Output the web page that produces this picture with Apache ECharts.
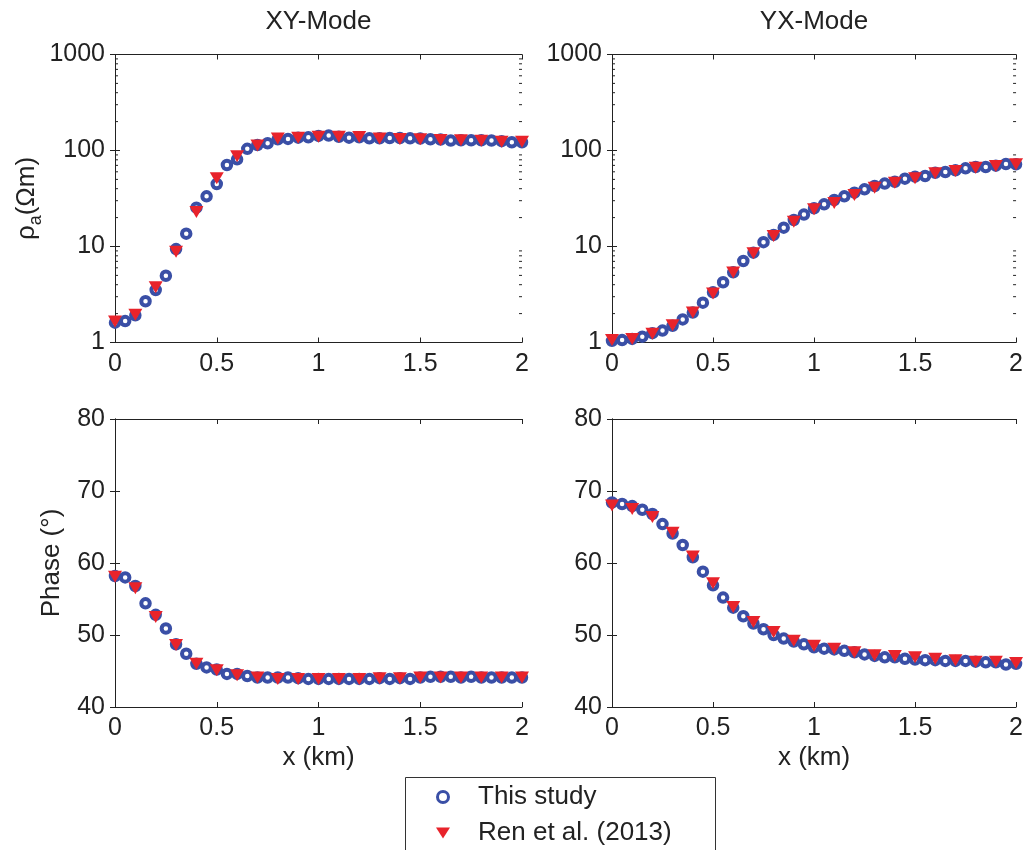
<!DOCTYPE html>
<html>
<head>
<meta charset="utf-8">
<script src="https://cdn.jsdelivr.net/npm/echarts@6/dist/echarts.min.js"></script>
<style>
html, body { margin: 0; padding: 0; background: #fff; }
#main { width: 1026px; height: 850px; }
</style>
</head>
<body>
<div id="main"></div>
<script>
// x positions (km)
var xFine = [0, 0.05, 0.1, 0.15, 0.2, 0.25, 0.3, 0.35, 0.4, 0.45, 0.5, 0.55, 0.6, 0.65, 0.7, 0.75, 0.8, 0.85, 0.9, 0.95,
    1, 1.05, 1.1, 1.15, 1.2, 1.25, 1.3, 1.35, 1.4, 1.45, 1.5, 1.55, 1.6, 1.65, 1.7, 1.75, 1.8, 1.85, 1.9, 1.95, 2];
var xCoarse = [0, 0.1, 0.2, 0.3, 0.4, 0.5, 0.6, 0.7, 0.8, 0.9, 1, 1.1, 1.2, 1.3, 1.4, 1.5, 1.6, 1.7, 1.8, 1.9, 2];

// apparent resistivity, XY mode
var xyRhoStudy = [1.61, 1.67, 1.92, 2.69, 3.52, 4.96, 9.4, 13.6, 25.4, 33.3, 44.8, 70.6, 80.9, 104, 114, 119, 131, 132, 136, 137,
    142, 143, 139, 136, 137, 134, 134, 135, 135, 134, 133, 131, 130, 127, 128, 128, 128, 127, 125, 122, 122];
var xyRhoRen = [1.65, 1.95, 3.76, 8.8, 22.9, 51.3, 87, 113, 133, 136, 139, 139, 138, 133, 132, 131, 129, 128, 126, 123, 123];

// apparent resistivity, YX mode
var yxRhoStudy = [1.04, 1.06, 1.09, 1.15, 1.25, 1.33, 1.49, 1.74, 2.05, 2.60, 3.33, 4.24, 5.38, 7.07, 8.63, 11.1, 13.2, 15.7, 18.9, 21.5,
    25.0, 27.5, 30.5, 33.3, 36.4, 39.4, 42.7, 45.2, 47.3, 50.9, 53.4, 54.2, 58.7, 59.7, 62.1, 65.2, 67.3, 67.3, 69.5, 72.3, 71.8];
var yxRhoRen = [1.06, 1.09, 1.23, 1.51, 2.05, 3.23, 5.35, 8.49, 12.9, 18.1, 24.4, 28.4, 34.4, 41.0, 46.2, 51.3, 57.8, 61.2, 66.2, 69, 72];

// phase, XY mode
var xyPhaseStudy = [58.2, 58.0, 56.8, 54.4, 52.8, 50.9, 48.7, 47.4, 46.0, 45.5, 45.2, 44.6, 44.6, 44.3, 44.1, 44.1, 44.1, 44.1, 44.0, 43.9,
    43.9, 43.9, 43.9, 43.9, 43.9, 43.9, 44.0, 43.9, 44.0, 43.9, 44.1, 44.2, 44.2, 44.2, 44.1, 44.2, 44.1, 44.1, 44.1, 44.1, 44.1];
var xyPhaseRen = [58.1, 56.5, 52.5, 48.6, 46.0, 45.1, 44.4, 44.1, 43.9, 43.9, 43.9, 43.9, 43.9, 44.0, 44.0, 44.1, 44.1, 44.1, 44.1, 44.1, 44.1];

// phase, YX mode
var yxPhaseStudy = [68.4, 68.2, 67.9, 67.4, 66.8, 65.4, 64.1, 62.5, 60.8, 58.8, 56.9, 55.2, 53.8, 52.6, 51.6, 50.8, 50.0, 49.5, 49.1, 48.7,
    48.3, 48.1, 48.0, 47.8, 47.6, 47.3, 47.1, 46.9, 46.9, 46.7, 46.6, 46.5, 46.5, 46.4, 46.4, 46.4, 46.3, 46.2, 46.2, 45.9, 46.0];
var yxPhaseRen = [68.0, 67.5, 66.4, 64.2, 60.9, 57.2, 53.9, 51.8, 50.4, 49.2, 48.5, 48.1, 47.6, 47.2, 47.1, 46.9, 46.7, 46.5, 46.3, 46.3, 46.1];

var modeTitles = ['XY-Mode', 'YX-Mode'];
var seriesNames = ['This study', 'Ren et al. (2013)'];

// log minor tick values (2..9 per decade)
var minorVals = [];
[1, 10, 100].forEach(function (d) {
    for (var m = 2; m <= 9; m++) minorVals.push(m * d);
});

var ink = '#222';
var blue = '#3a4fa6';
var red = '#e8232b';
var font = 'Liberation Sans, Arial, Helvetica, sans-serif';

var grids = [
    { left: 115, top: 54.5, width: 407, height: 288 },
    { left: 612, top: 54.5, width: 406, height: 288 },
    { left: 115, top: 419, width: 407, height: 288 },
    { left: 612, top: 419, width: 406, height: 288 }
];

function zip(xs, ys) {
    return xs.map(function (x, i) { return [x, ys[i]]; });
}

var xAxes = [], yAxes = [];
grids.forEach(function (g, gi) {
    var isTop = gi < 2;
    // bottom x axis
    xAxes.push({
        gridIndex: gi, type: 'value', position: 'bottom', min: 0, max: 2, interval: 0.5,
        name: isTop ? '' : 'x (km)', nameLocation: 'middle', nameGap: 38,
        nameTextStyle: { fontFamily: font, fontSize: 26, color: ink },
        axisLine: { show: true, lineStyle: { color: ink, width: 1 } },
        axisTick: { show: true, inside: true, length: 5, lineStyle: { color: ink } },
        axisLabel: { fontFamily: font, fontSize: 25, color: ink, margin: 9 },
        splitLine: { show: false }
    });
    // top x axis (box edge)
    xAxes.push({
        gridIndex: gi, type: 'value', position: 'top', min: 0, max: 2, interval: 0.5,
        name: isTop ? modeTitles[gi] : '', nameLocation: 'middle', nameGap: 20,
        nameTextStyle: { fontFamily: font, fontSize: 26, color: ink },
        axisLine: { show: true, lineStyle: { color: ink, width: 1 } },
        axisTick: { show: true, inside: true, length: 5, lineStyle: { color: ink } },
        axisLabel: { show: false },
        splitLine: { show: false }
    });
    var yBase = isTop
        ? { type: 'log', logBase: 10, min: 1, max: 1000 }
        : { type: 'value', min: 40, max: 80, interval: 10 };
    var yName = '';
    var yGap = 0;
    if (gi === 0) { yName = '{n|ρ}{s|a}{n|(Ωm)}'; yGap = 70; }
    if (gi === 2) { yName = 'Phase (°)'; yGap = 50; }
    yAxes.push(Object.assign({
        gridIndex: gi, position: 'left',
        name: yName, nameLocation: 'middle', nameGap: yGap,
        nameTextStyle: {
            fontFamily: font, fontSize: 26, color: ink,
            rich: {
                n: { fontFamily: font, fontSize: 26, color: ink, lineHeight: 36 },
                s: { fontFamily: font, fontSize: 18, color: ink, verticalAlign: 'bottom' }
            }
        },
        axisLine: { show: true, lineStyle: { color: ink, width: 1 } },
        axisTick: { show: true, inside: true, length: 5, lineStyle: { color: ink } },
        axisLabel: {
            fontFamily: font, fontSize: 25, color: ink, margin: 10,
            formatter: function (v) { return String(v); }
        },
        splitLine: { show: false }
    }, yBase));
    yAxes.push(Object.assign({
        gridIndex: gi, position: 'right',
        axisLine: { show: true, lineStyle: { color: ink, width: 1 } },
        axisTick: { show: true, inside: true, length: 5, lineStyle: { color: ink } },
        axisLabel: { show: false },
        splitLine: { show: false }
    }, yBase));
});

var panels = [
    [xyRhoStudy, xyRhoRen],
    [yxRhoStudy, yxRhoRen],
    [xyPhaseStudy, xyPhaseRen],
    [yxPhaseStudy, yxPhaseRen]
];

var series = [];
panels.forEach(function (p, gi) {
    series.push({
        name: seriesNames[0], type: 'scatter', xAxisIndex: 2 * gi, yAxisIndex: 2 * gi,
        data: zip(xFine, p[0]), symbol: 'circle', symbolSize: 8.5, clip: false,
        itemStyle: { color: '#fff', borderColor: blue, borderWidth: 4, opacity: 1 },
        emphasis: { disabled: true }, z: 2
    });
    series.push({
        name: seriesNames[1], type: 'scatter', xAxisIndex: 2 * gi, yAxisIndex: 2 * gi,
        data: zip(xCoarse, p[1]), symbol: 'triangle', symbolRotate: 180, symbolSize: [14, 12], clip: false,
        itemStyle: { color: red, opacity: 1 },
        emphasis: { disabled: true }, z: 3
    });
    if (gi < 2) {
        series.push({
            type: 'custom', xAxisIndex: 2 * gi, yAxisIndex: 2 * gi, silent: true, clip: false,
            data: minorVals.map(function (v) { return [0, v]; }),
            renderItem: function (params, api) {
                var a = api.coord([0, api.value(1)]);
                var b = api.coord([2, api.value(1)]);
                return {
                    type: 'group', children: [
                        { type: 'line', shape: { x1: a[0], y1: a[1], x2: a[0] + 3, y2: a[1] }, style: { stroke: ink, lineWidth: 1 } },
                        { type: 'line', shape: { x1: b[0] - 3, y1: b[1], x2: b[0], y2: b[1] }, style: { stroke: ink, lineWidth: 1 } }
                    ]
                };
            }
        });
    }
});

var chart = echarts.init(document.getElementById('main'));
chart.setOption({
    animation: false,
    backgroundColor: '#fff',
    grid: grids,
    xAxis: xAxes,
    yAxis: yAxes,
    legend: {
        data: [
            { name: seriesNames[0], icon: 'circle', itemStyle: { color: '#fff', borderColor: blue, borderWidth: 3 } },
            { name: seriesNames[1], icon: 'path://M0,0L14,0L7,11Z', itemStyle: { color: red, borderWidth: 0 } }
        ],
        orient: 'vertical',
        left: 436, top: 784,
        padding: 0,
        itemWidth: 14, itemHeight: 11, itemGap: 10,
        textStyle: { fontFamily: font, fontSize: 26, color: ink, padding: [0, 0, 0, 23] },
        selectedMode: false
    },
    graphic: [{
        type: 'rect', left: 403, top: 775, z: -1,
        shape: { width: 310, height: 100 },
        style: { fill: 'none', stroke: '#333', lineWidth: 1 }
    }],
    series: series
});
</script>
</body>
</html>
